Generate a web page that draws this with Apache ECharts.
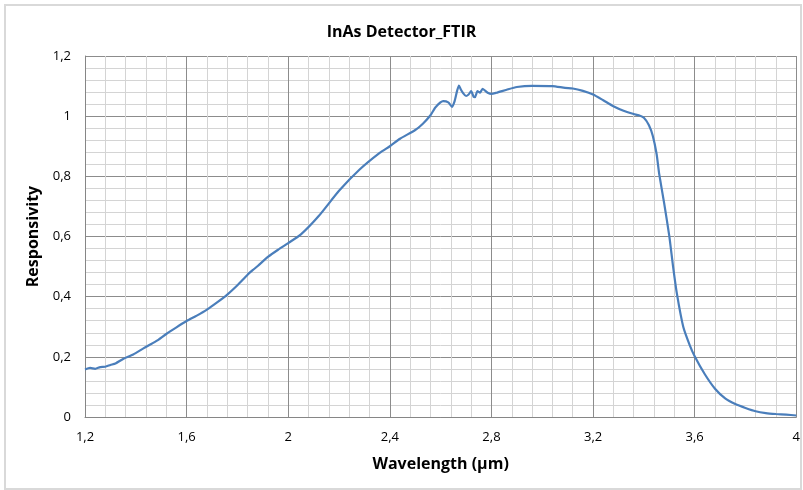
<!DOCTYPE html>
<html>
<head>
<meta charset="utf-8">
<script src="https://cdn.jsdelivr.net/npm/echarts@6/dist/echarts.min.js"></script>
<style>
  html, body { margin: 0; padding: 0; background: #fff; }
  .frame { position: absolute; left: 4px; top: 4px; width: 794px; height: 482px; border: 2px solid #d9d9d9; }
  #chart { position: absolute; left: 0; top: 0; width: 803px; height: 490px; }
</style>
</head>
<body>
<div class="frame"></div>
<div id="chart"></div>
<script>
// wavelength (µm)
const wavelength = [
  1.20, 1.22, 1.24, 1.26, 1.28, 1.30, 1.32, 1.35, 1.39, 1.43, 1.48, 1.52, 1.56, 1.60,
  1.64, 1.68, 1.72, 1.76, 1.80, 1.84, 1.86, 1.88, 1.92, 1.96, 2.00, 2.05, 2.12, 2.20,
  2.28, 2.36, 2.40, 2.44, 2.50, 2.53, 2.56, 2.58, 2.61, 2.63, 2.645, 2.655, 2.665,
  2.672, 2.68, 2.69, 2.70, 2.71, 2.72, 2.73, 2.735, 2.745, 2.755, 2.765, 2.775, 2.785,
  2.80, 2.82, 2.86, 2.90, 2.96, 3.04, 3.09, 3.12, 3.16, 3.20, 3.24, 3.28, 3.32, 3.36,
  3.38, 3.40, 3.42, 3.435, 3.45, 3.46, 3.48, 3.50, 3.515, 3.53, 3.555, 3.58, 3.60,
  3.64, 3.68, 3.72, 3.76, 3.80, 3.84, 3.88, 3.92, 3.96, 4.00
];
// responsivity
const responsivity = [
  0.158, 0.163, 0.160, 0.166, 0.167, 0.173, 0.178, 0.193, 0.208, 0.228, 0.252, 0.276, 0.298, 0.319,
  0.337, 0.357, 0.381, 0.407, 0.438, 0.473, 0.488, 0.502, 0.532, 0.556, 0.578, 0.607, 0.668, 0.752,
  0.822, 0.878, 0.900, 0.925, 0.954, 0.975, 1.003, 1.030, 1.050, 1.046, 1.031, 1.050, 1.085,
  1.102, 1.088, 1.075, 1.067, 1.072, 1.083, 1.064, 1.063, 1.083, 1.078, 1.091, 1.085, 1.078,
  1.074, 1.078, 1.088, 1.097, 1.101, 1.100, 1.094, 1.092, 1.084, 1.072, 1.053, 1.033, 1.018, 1.007,
  1.003, 0.995, 0.970, 0.935, 0.875, 0.810, 0.710, 0.602, 0.500, 0.410, 0.300, 0.240, 0.202,
  0.142, 0.094, 0.062, 0.043, 0.030, 0.019, 0.013, 0.010, 0.008, 0.005
];

const chartTitle = 'InAs Detector_FTIR';
const xName = 'Wavelength (µm)';
const yName = 'Responsivity';

const fmt = (v) => String(+v.toFixed(2)).replace('.', ',');

const myChart = echarts.init(document.getElementById('chart'));
const option = {
  backgroundColor: 'transparent',
  animation: false,
  title: {
    text: chartTitle,
    left: 'center',
    top: 19,
    textStyle: { fontFamily: 'Open Sans', fontSize: 16, fontWeight: 'bold', color: '#000' },
  },
  grid: { left: 85, right: 6, top: 56, bottom: 73, containLabel: false },
  xAxis: {
    type: 'value',
    min: 1.2,
    max: 4,
    interval: 0.4,
    name: xName,
    nameLocation: 'middle',
    nameGap: 39,
    nameTextStyle: { fontFamily: 'Open Sans', fontSize: 16, fontWeight: 'bold', color: '#000' },
    axisLine: { show: true, lineStyle: { color: '#868686', width: 1 } },
    axisTick: { show: false },
    axisLabel: {
      formatter: fmt,
      margin: 14,
      fontFamily: 'Open Sans',
      fontSize: 13,
      color: '#000',
    },
    splitLine: { show: true, lineStyle: { color: '#8c8c8c', width: 1 } },
    minorTick: { show: false, splitNumber: 5 },
    minorSplitLine: { show: true, lineStyle: { color: '#d4d4d4', width: 1 } },
  },
  yAxis: {
    type: 'value',
    min: 0,
    max: 1.2,
    interval: 0.2,
    name: yName,
    nameLocation: 'middle',
    nameGap: 42,
    nameTextStyle: { fontFamily: 'Open Sans', fontSize: 16, fontWeight: 'bold', color: '#000' },
    axisLine: { show: true, lineStyle: { color: '#868686', width: 1 } },
    axisTick: { show: false },
    axisLabel: {
      formatter: fmt,
      margin: 14,
      fontFamily: 'Open Sans',
      fontSize: 13,
      color: '#000',
    },
    splitLine: { show: true, lineStyle: { color: '#8c8c8c', width: 1 } },
    minorTick: { show: false, splitNumber: 5 },
    minorSplitLine: { show: true, lineStyle: { color: '#d4d4d4', width: 1 } },
  },
  series: [
    {
      type: 'line',
      showSymbol: false,
      smooth: 0.2,
      lineStyle: { color: '#4a7ebb', width: 2.2 },
      data: wavelength.map((w, i) => [w, responsivity[i]]),
    },
  ],
};
myChart.setOption(option);
</script>
</body>
</html>
